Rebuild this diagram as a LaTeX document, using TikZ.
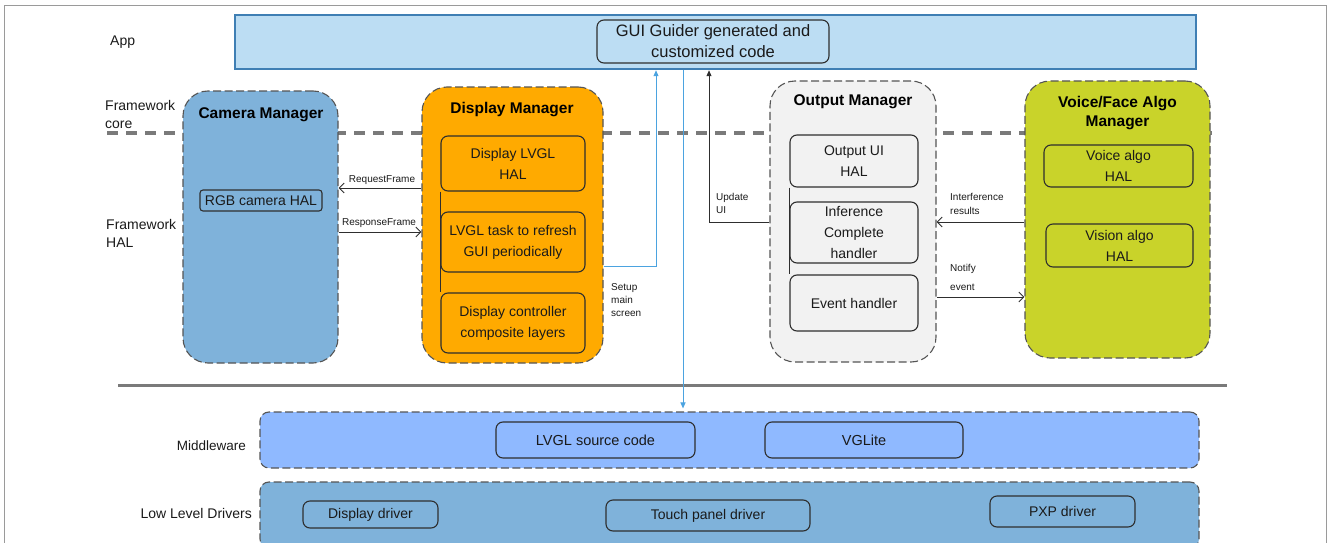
\documentclass[tikz,border=0pt]{standalone}
\usepackage{fontspec}
\setmainfont{Liberation Sans}
\usetikzlibrary{arrows.meta}
\definecolor{txtc}{HTML}{1A1A1A}
\definecolor{appfill}{HTML}{BCDDF3}
\definecolor{appdraw}{HTML}{3F7FB4}
\definecolor{camfill}{HTML}{7FB2DA}
\definecolor{dispfill}{HTML}{FFAA00}
\definecolor{outfill}{HTML}{F2F2F2}
\definecolor{voicefill}{HTML}{C9D32A}
\definecolor{midfill}{HTML}{8FB9FF}
\definecolor{dashc}{HTML}{555555}
\definecolor{boxc}{HTML}{2E2E2E}
\definecolor{bluearr}{HTML}{4BA3E0}
\definecolor{sepc}{HTML}{7A7A7A}
\definecolor{framec}{HTML}{9A9A9A}
\tikzset{
  txt/.style={font=\fontsize{14}{21}\selectfont, text=txtc, inner sep=0pt, align=center},
  smalltxt/.style={font=\fontsize{10}{13}\selectfont, text=txtc, inner sep=0pt, align=left},
  ttl/.style={font=\fontsize{15.5}{19}\selectfont\bfseries, text=black, inner sep=0pt, align=center},
  bigbox/.style={draw=dashc, line width=1.1pt, dash pattern=on 8pt off 3.5pt, rounded corners=25pt, inner sep=0pt},
  layerbox/.style={draw=dashc, line width=1.1pt, dash pattern=on 8pt off 3.5pt, rounded corners=9pt, inner sep=0pt},
  inbox/.style={draw=boxc, line width=1.1pt, rounded corners=7pt, txt},
  conn/.style={draw=boxc, line width=0.9pt, -{Straight Barb[length=5pt,width=10pt]}},
  solidarr/.style={draw=boxc, line width=0.9pt, -{Triangle[length=6pt,width=5pt]}},
  bluearrow/.style={draw=bluearr, line width=1pt, -{Triangle[length=6pt,width=5pt]}}
}
\begin{document}
\begin{tikzpicture}[x=1pt,y=-1pt]
\useasboundingbox (0,0) rectangle (1328,543);
% outer frame
\draw[framec, line width=1pt] (4,560) -- (4,6) -- (1326,6) -- (1326,560);
% layer separators
\draw[sepc, line width=3.5pt, dash pattern=on 11pt off 8pt] (107,133) -- (1212,133);
\draw[sepc, line width=3pt] (118,385) -- (1227,385);

% layer labels
\node[txt, anchor=west] (lapp) at (110,42) {App};
\node[txt, anchor=west, align=left, font=\fontsize{14}{18}\selectfont] (lcore) at (105,114) {Framework\\core};
\node[txt, anchor=west, align=left, font=\fontsize{14}{18}\selectfont] (lhal) at (106,233) {Framework\\HAL};
\node[txt, anchor=east, font=\fontsize{13.5}{16}\selectfont] (lmid) at (246,446) {Middleware};
\node[txt, anchor=east] (llow) at (252,513) {Low Level Drivers};

% App
\node[draw=appdraw, fill=appfill, line width=2.5pt, minimum width=961pt, minimum height=54pt, inner sep=0pt] (app) at (715.5,42) {};
\node[inbox, fill=appfill, minimum width=232pt, minimum height=43pt, font=\fontsize{16.5}{21}\selectfont] (gui) at (713,41.5) {GUI Guider generated and\\customized code};

% Camera Manager
\node[bigbox, fill=camfill, minimum width=155pt, minimum height=272pt] (cam) at (260.5,227) {};
\node[ttl] (camt) at (261,115) {Camera Manager};
\node[inbox, fill=camfill, minimum width=122pt, minimum height=21pt, rounded corners=3pt] (rgb) at (261,200.5) {RGB camera HAL};

% Display Manager
\node[bigbox, fill=dispfill, minimum width=181pt, minimum height=276pt] (disp) at (512.5,225) {};
\node[ttl] (dispt) at (512,110) {Display Manager};
\node[inbox, fill=dispfill, minimum width=144pt, minimum height=55pt] (dlvgl) at (513,163.5) {Display LVGL\\HAL};
\node[inbox, fill=dispfill, minimum width=144pt, minimum height=60pt] (dtask) at (513,242) {LVGL task to refresh\\GUI periodically};
\node[inbox, fill=dispfill, minimum width=144pt, minimum height=60pt] (dctrl) at (513,323) {Display controller\\composite layers};
\draw[boxc, line width=1.1pt] (dlvgl.south west) -- (dctrl.north west);

% Output Manager
\node[bigbox, fill=outfill, minimum width=166pt, minimum height=281pt] (out) at (853,221.5) {};
\node[ttl] (outt) at (853,102) {Output Manager};
\node[inbox, fill=outfill, minimum width=128pt, minimum height=52pt] (oui) at (854,161) {Output UI\\HAL};
\node[inbox, fill=outfill, minimum width=128pt, minimum height=61pt] (oinf) at (854,232.5) {Inference\\Complete\\handler};
\node[inbox, fill=outfill, minimum width=128pt, minimum height=56pt] (oevt) at (854,303) {Event handler};
\draw[boxc, line width=1.1pt] (oui.south west) -- (oevt.north west);

% Voice/Face Algo Manager
\node[bigbox, fill=voicefill, minimum width=185pt, minimum height=277pt] (voice) at (1117.5,219.5) {};
\node[ttl] (voicet) at (1117.5,113) {Voice/Face Algo\\Manager};
\node[inbox, fill=voicefill, minimum width=149pt, minimum height=42pt] (vvoice) at (1118.5,166) {Voice algo\\HAL};
\node[inbox, fill=voicefill, minimum width=147pt, minimum height=43pt] (vvision) at (1119.5,245.5) {Vision algo\\HAL};

% Middleware
\node[layerbox, fill=midfill, minimum width=939pt, minimum height=56pt] (mid) at (729.5,440) {};
\node[inbox, fill=midfill, minimum width=199pt, minimum height=36pt, font=\fontsize{14.5}{18}\selectfont] (lvglsrc) at (595.5,440) {LVGL source code};
\node[inbox, fill=midfill, minimum width=198pt, minimum height=36pt, font=\fontsize{14.5}{18}\selectfont] (vglite) at (864,440) {VGLite};

% Low level drivers
\node[layerbox, fill=camfill, minimum width=939pt, minimum height=66pt] (low) at (729.5,515) {};
\node[inbox, fill=camfill, minimum width=135pt, minimum height=27pt] (ddrv) at (370.5,514.5) {Display driver};
\node[inbox, fill=camfill, minimum width=204pt, minimum height=31pt] (tdrv) at (708,515.5) {Touch panel driver};
\node[inbox, fill=camfill, minimum width=145pt, minimum height=31pt] (pdrv) at (1062.5,511.5) {PXP driver};

% connectors
\draw[conn] (disp.west |- 0,188) -- (cam.east |- 0,188);
\node[smalltxt, anchor=south] (lreq) at (382,185) {RequestFrame};
\draw[conn] (cam.east |- 0,232) -- (disp.west |- 0,232);
\node[smalltxt, anchor=south] (lresp) at (379,228) {ResponseFrame};

\draw[bluearrow] (disp.east |- 0,266) -| (app.south -| 656,0);
\node[smalltxt, anchor=west] (lsetup) at (611,300) {Setup\\main\\screen};
\draw[bluearrow, shorten >=3pt] (app.south -| 683,0) -- (mid.north -| 683,0);

\draw[solidarr] (out.west |- 0,222) -| (app.south -| 709,0);
\node[smalltxt, anchor=west] (lupd) at (716,203) {Update\\UI};

\draw[conn] (voice.west |- 0,222) -- (out.east |- 0,222);
\node[smalltxt, anchor=west, font=\fontsize{10}{14}\selectfont] (linf) at (950,204) {Interference\\results};
\draw[conn] (out.east |- 0,297) -- (voice.west |- 0,297);
\node[smalltxt, anchor=west, font=\fontsize{10}{19}\selectfont] (lnot) at (950,277.5) {Notify\\event};
\end{tikzpicture}
\end{document}
